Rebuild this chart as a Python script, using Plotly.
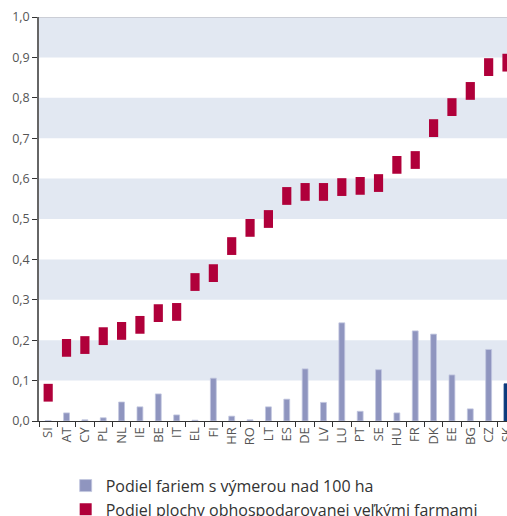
import plotly.graph_objects as go

countries = ["SI", "AT", "CY", "PL", "NL", "IE", "BE", "IT", "EL", "FI", "HR", "RO", "LT",
             "ES", "DE", "LV", "LU", "PT", "SE", "HU", "FR", "DK", "EE", "BG", "CZ", "SK"]

# share of farms over 100 ha
farm_share = [0.001, 0.020, 0.003, 0.008, 0.047, 0.035, 0.067, 0.015, 0.002, 0.106, 0.012, 0.003, 0.035,
              0.054, 0.129, 0.046, 0.243, 0.024, 0.127, 0.020, 0.223, 0.215, 0.114, 0.030, 0.177, 0.092]

# share of area farmed by large farms
area_share = [0.070, 0.181, 0.188, 0.210, 0.223, 0.238, 0.267, 0.270, 0.344, 0.366, 0.433, 0.478, 0.500,
              0.557, 0.567, 0.567, 0.579, 0.582, 0.589, 0.634, 0.646, 0.725, 0.777, 0.817, 0.876, 0.887]

y_ticks = [0.0, 0.1, 0.2, 0.3, 0.4, 0.5, 0.6, 0.7, 0.8, 0.9, 1.0]

marker_h = 0.044
bar_colors = ["#0b3a7c" if c == "SK" else "#8f95bf" for c in countries]
line_colors = ["#0b3a7c" if c == "SK" else "#c2c6df" for c in countries]

fig = go.Figure()
fig.add_trace(go.Bar(
    name="Podiel fariem s výmerou nad 100 ha",
    x=countries,
    y=farm_share,
    width=0.32,
    marker_color=bar_colors,
    marker_line_color=line_colors,
    marker_line_width=0.8,
))
fig.add_trace(go.Bar(
    name="Podiel plochy obhospodarovanej veľkými farmami",
    x=countries,
    y=[marker_h] * len(countries),
    base=[v - marker_h / 2 for v in area_share],
    width=0.5,
    marker_color="#b0003a",
    marker_line_width=0,
))

# alternating horizontal bands
shapes = []
for lo in [0.1, 0.3, 0.5, 0.7, 0.9]:
    shapes.append(dict(type="rect", xref="paper", yref="y", x0=0, x1=1, y0=lo, y1=lo + 0.1,
                       fillcolor="#e2e8f2", line_width=0, layer="below"))
shapes.append(dict(type="line", xref="paper", yref="y", x0=0, x1=1, y0=1.0, y1=1.0,
                   line=dict(color="#c3c6cc", width=1.5), layer="above"))

fig.update_layout(
    width=507,
    height=516,
    barmode="overlay",
    separators=", ",
    paper_bgcolor="white",
    plot_bgcolor="white",
    font=dict(family="Open Sans", color="#555555", size=13),
    shapes=shapes,
    showlegend=True,
    legend=dict(
        orientation="v",
        x=0.057, xanchor="left",
        y=-0.118, yanchor="top",
        font=dict(size=16, color="#333333"),
        bgcolor="rgba(0,0,0,0)",
        traceorder="normal",
    ),
    xaxis=dict(
        type="category",
        range=[-0.5, 25.0],
        automargin=False,
        tickangle=-90,
        ticks="outside",
        tickson="boundaries",
        ticklen=5,
        tickcolor="#333333",
        showline=True,
        linecolor="#333333",
        linewidth=1,
        showgrid=False,
        tickfont=dict(size=13, color="#555555"),
    ),
    yaxis=dict(
        range=[0, 1.0],
        automargin=False,
        tickvals=y_ticks,
        tickformat=".1f",
        ticks="outside",
        ticklen=5,
        tickcolor="#333333",
        showline=True,
        linecolor="#666666",
        linewidth=1.5,
        showgrid=False,
        zeroline=False,
        tickfont=dict(size=12.5, color="#555555"),
    ),
    margin=dict(l=39, r=0, t=17, b=95, autoexpand=False),
)

# drop the default body margin so the figure fills the window exactly
fig.write_html(
    "out.html",
    config={"displayModeBar": False},
    post_script="document.body.style.margin='0';document.body.style.overflow='hidden';",
)
